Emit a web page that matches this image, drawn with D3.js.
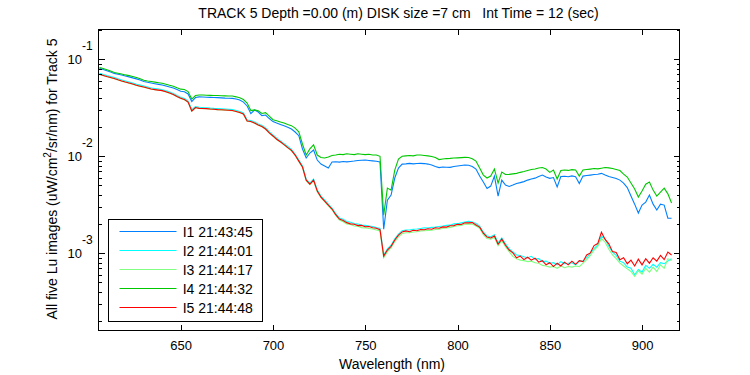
<!DOCTYPE html>
<html><head><meta charset="utf-8">
<script src="https://cdn.jsdelivr.net/npm/d3@7"></script>
<style>
body{margin:0;background:#fff}
text{font-family:Arial,"Liberation Sans",sans-serif;fill:#000}
</style>
</head><body>
<svg id="c" width="750" height="375"></svg>
<script>
// ---------------- DATA ----------------
const wavelengths = d3.range(606, 917, 2); // nm, 606..916
const I1 = [0.0803,0.0783,0.0760,0.0739,0.0715,0.0702,0.0688,0.0672,0.0659,0.0643,0.0628,0.0611,0.0590,0.0579,0.0570,0.0560,0.0551,0.0543,0.0530,0.0518,0.0505,0.0487,0.0469,0.0463,0.0439,
0.0367,0.0403,0.0410,0.0408,0.0406,0.0405,0.0403,0.0402,0.0400,0.0398,0.0397,0.0395,0.0389,0.0380,0.0362,0.0330,0.0275,0.0300,0.0286,0.0263,0.0266,0.0245,0.0228,0.0220,0.0213,
0.0206,0.0199,0.0191,0.0178,0.0163,0.0119,0.00960,0.0108,0.0116,0.00914,0.00831,0.00793,0.00756,0.00872,0.00878,0.00870,0.00882,0.00876,0.00885,0.00893,0.00904,0.00910,0.00914,0.00905,0.00897,
0.00888,0.00876,0.00177,0.00353,0.00398,0.00597,0.00756,0.00831,0.00835,0.00845,0.00836,0.00843,0.00845,0.00841,0.00831,0.00815,0.00784,0.00765,0.00775,0.00771,0.00769,0.00784,0.00793,0.00802,0.00812,
0.00808,0.00784,0.00738,0.00625,0.00543,0.00465,0.00493,0.00625,0.00389,0.00568,0.00505,0.00488,0.00505,0.00525,0.00535,0.00548,0.00568,0.00584,0.00595,0.00618,0.00640,0.00611,0.00592,0.00604,0.00482,
0.00618,0.00622,0.00615,0.00628,0.00615,0.00523,0.00625,0.00633,0.00640,0.00648,0.00652,0.00667,0.00640,0.00618,0.00604,0.00589,0.00568,0.00530,0.00476,0.00389,0.00321,0.00260,0.00314,0.00337,0.00398,
0.00321,0.00279,0.00321,0.00314,0.00230,0.00230];
const I2 = [0.0717,0.0698,0.0680,0.0664,0.0648,0.0629,0.0611,0.0596,0.0583,0.0569,0.0552,0.0541,0.0530,0.0517,0.0505,0.0499,0.0493,0.0486,0.0474,0.0459,0.0443,0.0424,0.0407,0.0394,0.0371,
0.0303,0.0326,0.0320,0.0318,0.0317,0.0314,0.0312,0.0311,0.0309,0.0307,0.0305,0.0303,0.0297,0.0290,0.0280,0.0237,0.0234,0.0226,0.0215,0.0208,0.0196,0.0178,0.0166,0.0154,0.0144,
0.0135,0.0126,0.0118,0.0105,0.00913,0.00794,0.00582,0.00530,0.00582,0.00449,0.00389,0.00353,0.00322,0.00293,0.00256,0.00231,0.00224,0.00213,0.00209,0.00203,0.00200,0.00196,0.00194,0.00191,0.00189,
0.00184,0.00180,0.000960,0.00111,0.00121,0.00141,0.00158,0.00171,0.00174,0.00174,0.00177,0.00178,0.00180,0.00183,0.00182,0.00185,0.00186,0.00189,0.00191,0.00194,0.00195,0.00201,0.00202,0.00206,0.00210,
0.00213,0.00210,0.00203,0.00191,0.00165,0.00151,0.00148,0.00155,0.00128,0.00144,0.00125,0.00111,0.00103,0.000960,0.000950,0.000920,0.000900,0.000930,0.000870,0.000880,0.000820,0.000830,0.000790,0.000800,0.000760,
0.000820,0.000780,0.000790,0.000800,0.000760,0.000830,0.000830,0.000900,0.00100,0.00112,0.00122,0.00150,0.00140,0.00118,0.00103,0.000950,0.000830,0.000800,0.000720,0.000700,0.000600,0.000680,0.000640,0.000750,0.000700,
0.000770,0.000720,0.000800,0.000780,0.000830,0.000880];
const I3 = [0.0698,0.0680,0.0662,0.0646,0.0631,0.0612,0.0595,0.0580,0.0567,0.0554,0.0537,0.0526,0.0516,0.0503,0.0491,0.0485,0.0479,0.0473,0.0461,0.0446,0.0431,0.0412,0.0395,0.0383,0.0360,
0.0291,0.0316,0.0311,0.0310,0.0309,0.0306,0.0304,0.0302,0.0301,0.0299,0.0297,0.0295,0.0289,0.0282,0.0272,0.0230,0.0227,0.0219,0.0209,0.0202,0.0190,0.0173,0.0161,0.0149,0.0140,
0.0131,0.0122,0.0114,0.0102,0.00885,0.00768,0.00560,0.00510,0.00560,0.00432,0.00375,0.00340,0.00308,0.00281,0.00245,0.00220,0.00211,0.00201,0.00198,0.00191,0.00190,0.00184,0.00183,0.00180,0.00178,
0.00174,0.00170,0.000900,0.00104,0.00114,0.00132,0.00148,0.00160,0.00163,0.00163,0.00166,0.00167,0.00170,0.00171,0.00172,0.00173,0.00176,0.00177,0.00181,0.00182,0.00185,0.00189,0.00192,0.00194,0.00200,
0.00201,0.00200,0.00191,0.00181,0.00156,0.00142,0.00140,0.00146,0.00120,0.00135,0.00117,0.00104,0.000930,0.000880,0.000850,0.000840,0.000820,0.000830,0.000800,0.000790,0.000750,0.000740,0.000720,0.000730,0.000700,
0.000740,0.000710,0.000730,0.000720,0.000740,0.000730,0.000790,0.000860,0.000950,0.00108,0.00118,0.00142,0.00130,0.00110,0.000960,0.000880,0.000790,0.000740,0.000690,0.000650,0.000580,0.000660,0.000610,0.000700,0.000640,
0.000720,0.000650,0.000760,0.000700,0.000880,0.000840];
const I4 = [0.0823,0.0802,0.0779,0.0757,0.0732,0.0718,0.0705,0.0690,0.0678,0.0664,0.0650,0.0630,0.0608,0.0597,0.0589,0.0581,0.0573,0.0566,0.0554,0.0540,0.0528,0.0509,0.0492,0.0488,0.0465,
0.0389,0.0423,0.0428,0.0428,0.0426,0.0425,0.0423,0.0423,0.0421,0.0420,0.0419,0.0418,0.0410,0.0401,0.0385,0.0354,0.0296,0.0301,0.0295,0.0276,0.0282,0.0260,0.0238,0.0232,0.0226,
0.0220,0.0213,0.0207,0.0195,0.0179,0.0133,0.0103,0.0119,0.0131,0.0103,0.00971,0.00960,0.00983,0.0102,0.0103,0.0105,0.0104,0.0106,0.0105,0.0104,0.0106,0.0105,0.0104,0.0105,0.0103,
0.0103,0.0100,0.00247,0.00470,0.00448,0.00721,0.00936,0.0100,0.0101,0.0102,0.0101,0.0103,0.0103,0.0102,0.0101,0.00994,0.00971,0.00925,0.00936,0.00947,0.00952,0.00960,0.00964,0.00969,0.00974,
0.00971,0.00943,0.00893,0.00756,0.00640,0.00597,0.00625,0.00738,0.00530,0.00688,0.00648,0.00651,0.00659,0.00667,0.00683,0.00697,0.00713,0.00730,0.00738,0.00756,0.00765,0.00738,0.00683,0.00721,0.00583,
0.00713,0.00721,0.00715,0.00728,0.00721,0.00625,0.00721,0.00730,0.00738,0.00747,0.00742,0.00753,0.00765,0.00760,0.00747,0.00730,0.00713,0.00655,0.00611,0.00530,0.00459,0.00380,0.00438,0.00516,0.00543,
0.00448,0.00389,0.00428,0.00470,0.00410,0.00330];
const I5 = [0.0700,0.0682,0.0664,0.0648,0.0633,0.0614,0.0597,0.0582,0.0569,0.0556,0.0539,0.0528,0.0518,0.0505,0.0493,0.0487,0.0481,0.0475,0.0463,0.0448,0.0433,0.0414,0.0397,0.0385,0.0362,
0.0293,0.0318,0.0312,0.0311,0.0310,0.0307,0.0305,0.0303,0.0302,0.0300,0.0298,0.0296,0.0290,0.0283,0.0273,0.0231,0.0228,0.0220,0.0210,0.0203,0.0191,0.0174,0.0162,0.0150,0.0141,
0.0132,0.0123,0.0115,0.0103,0.00892,0.00775,0.00568,0.00517,0.00568,0.00438,0.00380,0.00345,0.00314,0.00286,0.00250,0.00225,0.00218,0.00207,0.00201,0.00199,0.00193,0.00194,0.00188,0.00189,0.00183,
0.00181,0.00175,0.000935,0.00108,0.00118,0.00137,0.00154,0.00166,0.00170,0.00167,0.00173,0.00171,0.00176,0.00175,0.00179,0.00177,0.00183,0.00181,0.00187,0.00186,0.00192,0.00193,0.00199,0.00198,0.00206,
0.00206,0.00207,0.00196,0.00186,0.00161,0.00147,0.00144,0.00151,0.00124,0.00140,0.00121,0.00108,0.00101,0.000900,0.000935,0.000860,0.000910,0.000850,0.000890,0.000810,0.000840,0.000760,0.000800,0.000730,0.000790,
0.000740,0.000810,0.000760,0.000830,0.000770,0.000840,0.000820,0.000960,0.00101,0.00120,0.00126,0.00165,0.00139,0.00125,0.00104,0.00102,0.000860,0.000900,0.000780,0.000850,0.000740,0.000870,0.000760,0.000880,0.000790,
0.000900,0.000830,0.000950,0.000860,0.00103,0.000960];

const seriesNames = ["I1 21:43:45","I2 21:44:01","I3 21:44:17","I4 21:44:32","I5 21:44:48"];
const seriesColors = ["#0080ff","#00ffff","#80ff80","#00c800","#ff0000"];
const xTickValues = [650,700,750,800,850,900];
const yDecades = [1e-3,1e-2,1e-1];
const yExponents = ["-3","-2","-1"];
const titleText = "TRACK 5 Depth =0.00 (m) DISK size =7 cm   Int Time = 12 (sec)";
const xLabel = "Wavelength (nm)";

// ---------------- CHART ----------------
const allSeries = [I1,I2,I3,I4,I5];
const L=98.5, R=679.5, T=29.5, B=330.5;
const svg = d3.select("#c");
const x = d3.scaleLinear().domain([605.45, 920.3]).range([L, R]);
const y = d3.scaleLog().domain([Math.pow(10,-3.796), Math.pow(10,-0.693)]).range([B, T]);

svg.append("rect").attr("width",750).attr("height",375).attr("fill","#fff");

const g = svg.append("g");
const line = d3.line().x((d,i)=>x(wavelengths[i])).y(d=>y(d));
allSeries.forEach((s,k)=>{
  g.append("path").datum(s).attr("d",line).attr("fill","none")
   .attr("stroke",seriesColors[k]).attr("stroke-width",1.1);
});

// box
svg.append("rect").attr("x",L).attr("y",T).attr("width",R-L).attr("height",B-T)
  .attr("fill","none").attr("stroke","#000").attr("stroke-width",1).attr("shape-rendering","crispEdges");

function styleAxis(sel){ sel.select(".domain").remove(); sel.selectAll("line").attr("stroke","#000").attr("shape-rendering","crispEdges"); }

// bottom axis
const xb = svg.append("g").attr("transform",`translate(0,${B})`)
  .call(d3.axisBottom(x).tickValues(xTickValues).tickSizeInner(-6).tickSizeOuter(0).tickPadding(10).tickFormat(d3.format("d")));
styleAxis(xb);
xb.selectAll("text").attr("font-size",13).attr("font-family","Arial, Liberation Sans, sans-serif").attr("fill","#000");
// top axis
const xt = svg.append("g").attr("transform",`translate(0,${T})`)
  .call(d3.axisTop(x).tickValues(xTickValues).tickSizeInner(-5).tickSizeOuter(0).tickFormat(""));
styleAxis(xt);

// y axes
const minorTicks = y.ticks().filter(v=>!yDecades.some(d=>Math.abs(d-v)/d<1e-6));
[[d3.axisLeft, L],[d3.axisRight, R]].forEach(([fn,pos])=>{
  const a = svg.append("g").attr("transform",`translate(${pos},0)`)
    .call(fn(y).tickValues(yDecades).tickSizeInner(-6).tickSizeOuter(0).tickFormat(""));
  styleAxis(a);
  const m = svg.append("g").attr("transform",`translate(${pos},0)`)
    .call(fn(y).tickValues(minorTicks).tickSizeInner(-3).tickSizeOuter(0).tickFormat(""));
  styleAxis(m);
});
// y tick labels
yDecades.forEach((d,i)=>{
  svg.append("text").attr("x",82).attr("y",y(d)+4.8).attr("text-anchor","end")
    .attr("font-size",13).text("10");
  svg.append("text").attr("x",82).attr("y",y(d)-9.5).attr("text-anchor","start")
    .attr("font-size",12).text(yExponents[i]);
});

// title
svg.append("text").attr("x",398.5).attr("y",18.3).attr("text-anchor","middle")
  .attr("font-size",14).style("white-space","pre").attr("xml:space","preserve").text(titleText);
// x label
svg.append("text").attr("x",392).attr("y",369).attr("text-anchor","middle")
  .attr("font-size",14).text(xLabel);
// y label
const yl = svg.append("text").attr("transform","translate(57,179) rotate(-90)")
  .attr("text-anchor","middle").attr("font-size",14);
yl.append("tspan").text("All five Lu images (uW/cm");
yl.append("tspan").attr("dy",-6).attr("font-size",10).text("2");
yl.append("tspan").attr("dy",6).text("/sr/nm) for Track 5");

// legend
const lg = svg.append("g");
lg.append("rect").attr("x",108.5).attr("y",219.5).attr("width",154).attr("height",102)
  .attr("fill","#fff").attr("stroke","#000").attr("stroke-width",1).attr("shape-rendering","crispEdges");
seriesNames.forEach((n,i)=>{
  const yy = Math.round(231 + i*19.1) + 0.5;
  lg.append("line").attr("x1",119.5).attr("x2",176.5).attr("y1",yy).attr("y2",yy)
    .attr("stroke",seriesColors[i]).attr("stroke-width",1.2);
  lg.append("text").attr("x",182.7).attr("y",yy+5).attr("font-size",14).text(n);
});
</script>
</body></html>
